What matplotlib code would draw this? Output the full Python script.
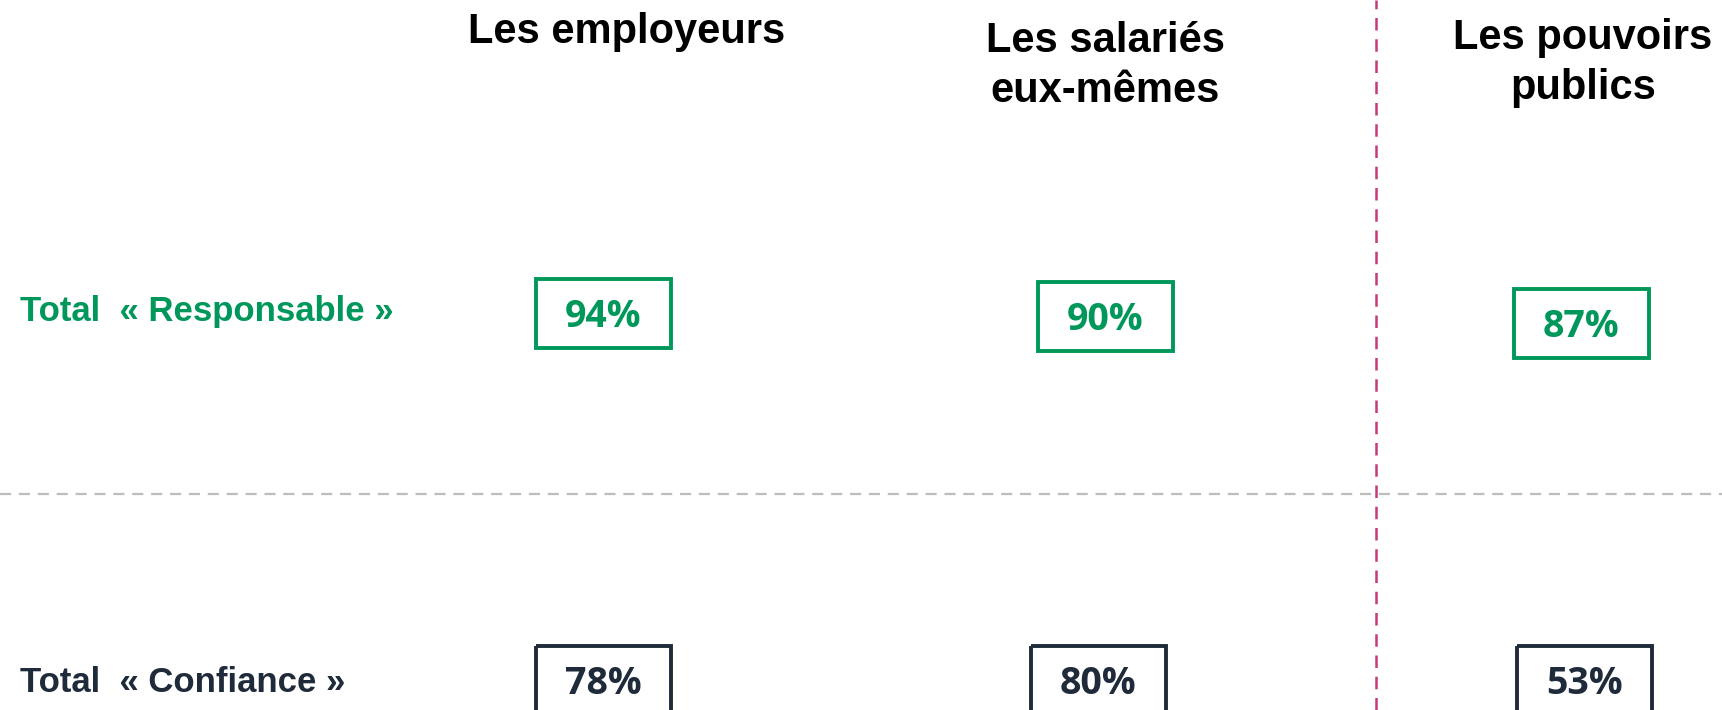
import matplotlib.pyplot as plt
from matplotlib.patches import Rectangle

# data
columns = ["Les employeurs", "Les salariés\neux-mêmes", "Les pouvoirs\npublics"]
rows = ["Total  « Responsable »", "Total  « Confiance »"]
responsable = [94, 90, 87]
confiance = [78, 80, 53]

# layout (pixel space of the 1722x710 canvas)
header_x = [627, 1105, 1583]
header_y = [32, 66, 63]
resp_x = [603, 1105, 1581]
resp_y = [313, 316, 323]
conf_x = [603, 1098, 1584]
conf_y = [680, 680, 680]
box_w, box_h = 135, 69

green = "#00975A"
navy = "#1F2B3A"
magenta = "#C43A7C"

fig = plt.figure(figsize=(17.22, 7.10), dpi=100)
ax = fig.add_axes([0, 0, 1, 1])
ax.set_xlim(0, 1722)
ax.set_ylim(710, 0)
ax.axis("off")

# separators
ax.axhline(494, color="#BDBDBD", lw=1.6, ls=(0, (5, 3.5)), zorder=1)
ax.axvline(1376, color=magenta, lw=1.8, ls=(0, (5, 3.5)), zorder=1)

# headers
for x, y, name in zip(header_x, header_y, columns):
    ax.text(x, y, name, ha="center", va="center", fontsize=30,
            fontweight="bold", family="Liberation Sans", color="black",
            linespacing=1.35)

# row labels
for y, label, c in zip([312, 683], rows, [green, navy]):
    ax.text(20, y, label, ha="left", va="center", fontsize=25,
            fontweight="bold", family="Liberation Sans", color=c)

def draw_boxes(xs, ys, vals, color):
    for x, y, v in zip(xs, ys, vals):
        ax.add_patch(Rectangle((x - box_w / 2, y - box_h / 2), box_w, box_h,
                               fill=False, ec=color, lw=2.8, zorder=2))
        ax.text(x, y + 4, f"{v}%", ha="center", va="center", fontsize=27,
                fontweight="bold", family="Open Sans", color=color)

draw_boxes(resp_x, resp_y, responsable, green)
draw_boxes(conf_x, conf_y, confiance, navy)

fig.savefig("out.png", dpi=100)
